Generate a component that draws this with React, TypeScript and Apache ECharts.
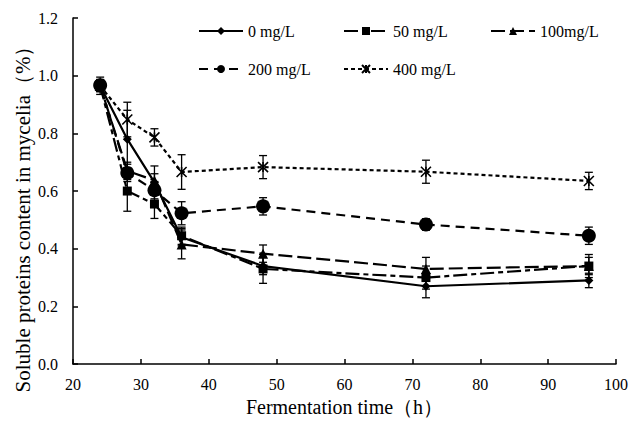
import React, { useEffect, useRef } from "react";
import * as echarts from "echarts";

const times = [24, 28, 32, 36, 48, 72, 96];
const s0 = [0.965, 0.78, 0.63, 0.44, 0.34, 0.27, 0.29];
const s50 = [0.965, 0.6, 0.555, 0.445, 0.33, 0.3, 0.34];
const s100 = [0.965, 0.67, 0.637, 0.415, 0.383, 0.33, 0.34];
const s200 = [0.967, 0.663, 0.603, 0.523, 0.547, 0.484, 0.445];
const s400 = [0.965, 0.848, 0.786, 0.666, 0.683, 0.667, 0.635];
const e0 = [0.02, 0.1, 0.03, 0.03, 0.03, 0.04, 0.025];
const e50 = [0.02, 0.07, 0.05, 0.03, 0.05, 0.04, 0.04];
const e100 = [0.02, 0.03, 0.05, 0.05, 0.03, 0.04, 0.03];
const e200 = [0.02, 0.03, 0.03, 0.04, 0.03, 0.02, 0.03];
const e400 = [0.03, 0.06, 0.03, 0.06, 0.04, 0.04, 0.03];
const yTicks = ["0.0", "0.2", "0.4", "0.6", "0.8", "1.0", "1.2"];
const xName = "Fermentation time（h）";
const yName = "Soluble proteins content in mycelia（%）";

const FONT = "'Liberation Serif', 'Times New Roman', 'DejaVu Serif', serif";
const starPath = "path://M0,0L10,10M10,0L0,10M5,0L5,10";

const seriesDefs = [
  { name: "0 mg/L", vals: s0, err: e0, symbol: "diamond", size: 9, dash: "solid" as any, legendLeft: 193, legendTop: 18 },
  { name: "50 mg/L", vals: s50, err: e50, symbol: "rect", size: 9, dash: [14, 4, 5, 4], legendLeft: 338, legendTop: 18 },
  { name: "100mg/L", vals: s100, err: e100, symbol: "triangle", size: 10, dash: [14, 5], legendLeft: 485, legendTop: 18 },
  { name: "200 mg/L", vals: s200, err: e200, symbol: "circle", size: 14, dash: [9, 6], legendLeft: 193, legendTop: 56 },
  { name: "400 mg/L", vals: s400, err: e400, symbol: starPath, size: 10, dash: [4, 3], legendLeft: 338, legendTop: 56 },
];

export default function App() {
  const ref = useRef<HTMLDivElement>(null);
  useEffect(() => {
    if (!ref.current) return;
    const chart = echarts.init(ref.current, undefined, { renderer: "svg" });
    const series: any[] = [];
    seriesDefs.forEach((d) => {
      const isStar = d.symbol === starPath;
      series.push({
        name: d.name,
        type: "line",
        data: times.map((t, i) => [t, d.vals[i]]),
        symbol: d.symbol,
        symbolSize: d.size,
        lineStyle: { color: "#000", width: 2.2, type: d.dash },
        itemStyle: isStar
          ? { color: "#fff", borderColor: "#000", borderWidth: 1.6 }
          : { color: "#000", borderWidth: 0 },
        z: 3,
      });
      series.push({
        type: "custom",
        name: d.name + " err",
        data: times.map((t, i) => [t, d.vals[i] - d.err[i], d.vals[i] + d.err[i]]),
        renderItem: (params: any, api: any) => {
          const x = api.value(0);
          const lo = api.coord([x, api.value(1)]);
          const hi = api.coord([x, api.value(2)]);
          const w = 4;
          const st = { stroke: "#000", lineWidth: 1.3 };
          return {
            type: "group",
            children: [
              { type: "line", shape: { x1: lo[0], y1: lo[1], x2: hi[0], y2: hi[1] }, style: st },
              { type: "line", shape: { x1: lo[0] - w, y1: lo[1], x2: lo[0] + w, y2: lo[1] }, style: st },
              { type: "line", shape: { x1: hi[0] - w, y1: hi[1], x2: hi[0] + w, y2: hi[1] }, style: st },
            ],
          };
        },
        encode: { x: 0, y: [1, 2] },
        z: 2,
        silent: true,
      });
    });
    const legends = seriesDefs.map((d) => ({
      data: [d.name],
      left: d.legendLeft,
      top: d.legendTop,
      itemWidth: 44,
      itemHeight: 10,
      textStyle: { fontFamily: FONT, fontSize: 16, color: "#000" },
      selectedMode: false,
    }));
    chart.setOption({
      animation: false,
      backgroundColor: "#fff",
      grid: { left: 73, right: 6, top: 18, bottom: 53, containLabel: false },
      legend: legends,
      graphic: [
        {
          type: "text",
          x: 23,
          y: 214,
          rotation: Math.PI / 2,
          style: {
            text: yName,
            font: "21px " + FONT,
            fill: "#000",
            align: "center",
            verticalAlign: "middle",
          },
        },
      ],
      xAxis: {
        type: "value",
        min: 20,
        max: 100,
        interval: 10,
        name: xName,
        nameLocation: "middle",
        nameGap: 28,
        nameTextStyle: { fontFamily: FONT, fontSize: 20, color: "#000" },
        axisLine: { lineStyle: { color: "#000", width: 1.5 } },
        axisTick: { inside: true, length: 5, lineStyle: { color: "#000", width: 1.5 } },
        axisLabel: { fontFamily: FONT, fontSize: 16, color: "#000", margin: 12 },
        splitLine: { show: false },
      },
      yAxis: {
        type: "value",
        min: 0,
        max: 1.2,
        interval: 0.2,
        axisLine: { show: true, lineStyle: { color: "#000", width: 1.5 } },
        axisTick: { show: true, inside: true, length: 5, lineStyle: { color: "#000", width: 1.5 } },
        axisLabel: {
          fontFamily: FONT,
          fontSize: 16,
          color: "#000",
          margin: 15,
          formatter: (v: number) => yTicks[Math.round(v / 0.2)] ?? "",
        },
        splitLine: { show: false },
      },
      series,
    });
    return () => chart.dispose();
  }, []);
  return (
    <div
      ref={ref}
      style={{ position: "absolute", left: 0, top: 0, width: 631, height: 422 }}
    />
  );
}
